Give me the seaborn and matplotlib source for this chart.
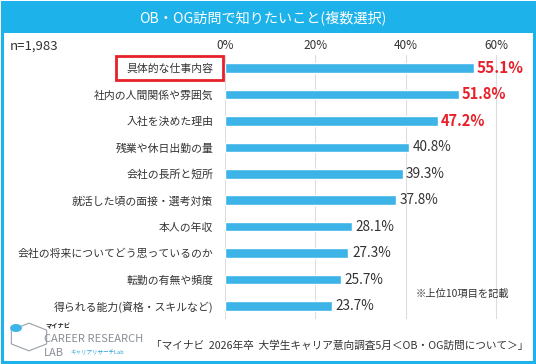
import matplotlib
matplotlib.use("Agg")
import matplotlib.pyplot as plt
import seaborn as sns
import pandas as pd
from matplotlib.patches import Rectangle, Circle, RegularPolygon

# データ
items = ["具体的な仕事内容", "社内の人間関係や雰囲気", "入社を決めた理由", "残業や休日出勤の量",
         "会社の長所と短所", "就活した頃の面接・選考対策", "本人の年収",
         "会社の将来についてどう思っているのか", "転勤の有無や頻度", "得られる能力(資格・スキルなど)"]
values = [55.1, 51.8, 47.2, 40.8, 39.3, 37.8, 28.1, 27.3, 25.7, 23.7]
xticks = [0, 20, 40, 60]
title = "OB・OG訪問で知りたいこと(複数選択)"
n_text = "n=1,983"
note = "※上位10項目を記載"
source = "「マイナビ  2026年卒  大学生キャリア意向調査5月＜OB・OG訪問について＞」"

df = pd.DataFrame({"item": items, "value": values})

sns.set_theme(style="white")
plt.rcParams['font.family'] = ['Noto Sans CJK JP', 'DejaVu Sans']

blue = "#1db2ea"
bar_color = "#3cb4e7"
red = "#e8202a"
gray = "#333333"

fig = plt.figure(figsize=(5.36, 3.64), dpi=100)

# 外枠とタイトル帯
fig.patches.append(Rectangle((0.004, 0.006), 0.992, 0.988, transform=fig.transFigure,
                             fill=False, edgecolor=blue, linewidth=2.2, zorder=0))
fig.patches.append(Rectangle((0.004, 0.91), 0.992, 0.084, transform=fig.transFigure,
                             facecolor=blue, edgecolor=blue, linewidth=0, zorder=0))
fig.text(0.49, 0.952, title, ha="center", va="center", color="white", fontsize=10.2)

ax = fig.add_axes([0.4198, 0.123, 0.52, 0.7264])
sns.barplot(data=df, x="value", y="item", color=bar_color, width=0.36,
            saturation=1, ax=ax)
ax.set_xlim(0, 60 * 0.52 * 536 / (496 - 225))
ax.set_ylim(9.5, -0.5)
ax.set_xticks(xticks)
ax.set_xticklabels([f"{t}%" for t in xticks])
ax.xaxis.tick_top()
ax.tick_params(axis="x", length=0, pad=2, labelsize=8.5, colors=gray)
ax.tick_params(axis="y", length=0, pad=8.5, labelsize=7.8, colors=gray)
ax.set_xlabel("")
ax.set_ylabel("")
for s in ax.spines.values():
    s.set_visible(False)
for t in xticks:
    ax.axvline(t, color="#dddddd", linewidth=0.8, zorder=0)
ax.set_axisbelow(True)

for i, v in enumerate(values):
    if i < 3:
        ax.text(v + 0.6, i, f"{v}%", va="center", ha="left", color=red,
                fontsize=11 if i == 0 else 10.5, fontweight="bold")
    else:
        ax.text(v + 0.8, i, f"{v}%", va="center", ha="left", color=gray, fontsize=9.8)

# 1位の項目を赤枠で囲む
fig.patches.append(Rectangle((116 / 536, 1 - 80 / 364), 107 / 536, 24 / 364,
                             transform=fig.transFigure, fill=False, edgecolor=red,
                             linewidth=2, zorder=5))

fig.text(10 / 536, 1 - 46 / 364, n_text, ha="left", va="center", color=gray, fontsize=9.5)
fig.text(416 / 536, 1 - 294 / 364, note, ha="left", va="center", color=gray, fontsize=7.4)
fig.text(528 / 536, 1 - 346 / 364, source, ha="right", va="center", color=gray, fontsize=7.7)

# ロゴ(簡易)
fig.text(45 / 536, 1 - 326 / 364, "マイナビ", ha="left", va="center", color="#222222",
         fontsize=4.5, fontweight="bold")
fig.text(44 / 536, 1 - 339 / 364, "CAREER RESEARCH", ha="left", va="center",
         color="#8a8f96", fontsize=8)
fig.text(44 / 536, 1 - 353 / 364, "LAB", ha="left", va="center", color="#8a8f96", fontsize=8)
fig.text(70 / 536, 1 - 353 / 364, "キャリアリサーチLab", ha="left", va="center",
         color="#2a9fd6", fontsize=4)
fig.patches.append(RegularPolygon((29 / 536, 1 - 337 / 364), 6, radius=0.038,
                                  transform=fig.transFigure, fill=False,
                                  edgecolor="#9aa0a6", linewidth=0.8))
fig.patches.append(Circle((16 / 536, 1 - 328 / 364), 0.011, transform=fig.transFigure,
                          facecolor="#3cb4e7", edgecolor="none"))

fig.savefig("out.png", dpi=100)
